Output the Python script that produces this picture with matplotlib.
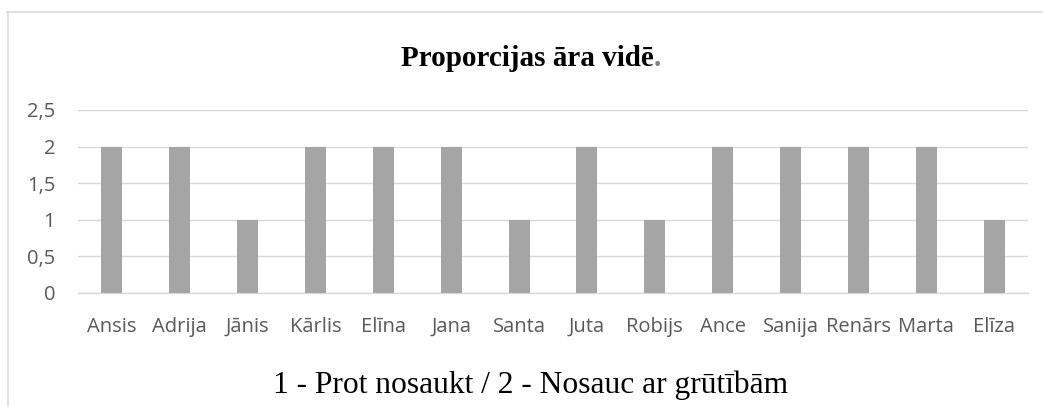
import matplotlib
matplotlib.use("Agg")
import matplotlib.pyplot as plt
from matplotlib.ticker import FuncFormatter, MultipleLocator
from matplotlib.lines import Line2D

names = ["Ansis", "Adrija", "Jānis", "Kārlis", "Elīna", "Jana", "Santa",
         "Juta", "Robijs", "Ance", "Sanija", "Renārs", "Marta", "Elīza"]
values = [2, 2, 1, 2, 2, 2, 1, 2, 1, 2, 2, 2, 2, 1]
title = "Proporcijas āra vidē"
xlabel = "1 - Prot nosaukt / 2 - Nosauc ar grūtībām"

W, H = 1043, 407
fig = plt.figure(figsize=(W / 100, H / 100), dpi=100)
ax = fig.add_axes([78 / W, 1 - 293 / H, (1028 - 78) / W, (293 - 110) / H])

x = list(range(len(names)))
ax.bar(x, values, width=0.31, color="#A5A5A5", zorder=3)
ax.set_xlim(-0.5, len(names) - 0.5)
ax.set_ylim(0, 2.5)
ax.yaxis.set_major_locator(MultipleLocator(0.5))
ax.yaxis.set_major_formatter(FuncFormatter(lambda v, p: ("%g" % v).replace(".", ",")))
ax.grid(axis="y", color="#D9D9D9", linewidth=1, zorder=0)
for s in ["top", "right", "left"]:
    ax.spines[s].set_visible(False)
ax.spines["bottom"].set_color("#D9D9D9")
ax.spines["bottom"].set_linewidth(1)
ax.tick_params(axis="both", length=0, labelsize=14.5, labelcolor="#595959")
ax.tick_params(axis="y", pad=16.5)
ax.tick_params(axis="x", pad=17)
ax.set_xticks(x)
ax.set_xticklabels(names, fontfamily="Open Sans")
for lab in ax.get_yticklabels():
    lab.set_fontfamily("Open Sans")

# title with grey period
t = fig.text(531 / W - 4 / W, 1 - 66 / H, title, ha="center", va="baseline",
             fontfamily="Liberation Serif", fontweight="bold", fontsize=21, color="black")
fig.canvas.draw()
bb = t.get_window_extent()
fig.text(bb.x1 / W, 1 - 66 / H, ".", ha="left", va="baseline",
         fontfamily="Liberation Serif", fontweight="bold", fontsize=21, color="#7F7F7F")

fig.text(531 / W, 1 - 393 / H, xlabel, ha="center", va="baseline",
         fontfamily="Liberation Serif", fontsize=22.7, color="black")

# chart frame (partially visible)
fig.add_artist(Line2D([7 / W, 1], [1 - 12 / H, 1 - 12 / H], transform=fig.transFigure,
                      color="#D9D9D9", linewidth=1.2))
fig.add_artist(Line2D([8 / W, 8 / W], [0, 1 - 12 / H], transform=fig.transFigure,
                      color="#D9D9D9", linewidth=1.2))

fig.savefig("out.png", dpi=100, facecolor="white")
